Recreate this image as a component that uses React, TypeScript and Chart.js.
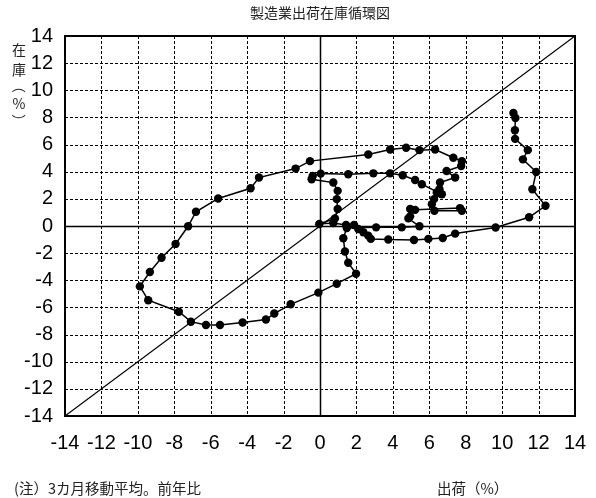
import React, { useEffect, useRef } from "react";
import { Chart, registerables } from "chart.js";

Chart.register(...registerables);

const TITLE = "製造業出荷在庫循環図";
const NOTE = "(注）3カ月移動平均。前年比";
const X_LABEL = "出荷（%）";
const Y_LABEL_CHARS = ["在", "庫", "（", "%", "）"];

const AXIS_MIN = -14;
const AXIS_MAX = 14;
const AXIS_STEP = 2;

// 出荷 (shipments, % yoy) - x
const shipments = [
  6.41, 6.56, 6.59, 7.42, 6.95, 7.75, 7.79, 7.32, 6.32, 5.46, 4.73, 3.85, 2.65,
  -0.55, -1.34, -3.35, -3.81, -5.59, -6.81, -7.24, -7.93, -8.7, -9.34, -9.89,
  -9.43, -7.75, -7.09, -6.26, -5.49, -4.25, -2.97, -2.51, -1.61, -0.09, 0.92,
  1.98, 1.55, 1.37, 1.28, 1.47, 3.08, 4.49, 5.46, 4.85, 4.95, 4.95, 5.22, 7.69,
  7.79, 6.28, 6.14, 6.26, 6.69, 5.59, 5.22, 4.54, 3.85, 2.93, 1.55, 0.04, -0.4,
  -0.46, 0.73, 0.97, 0.92, 0.97, 0.82, -0.04, 0.73, 1.43, 1.87, 2.1, 2.38, 2.65,
  2.79, 3.75, 5.16, 5.95, 6.74, 7.42, 9.64, 11.48, 12.38, 11.66, 11.87, 11.14,
  11.41, 10.71, 10.7, 10.73, 10.62,
];

// 在庫 (inventory, % yoy) - y
const inventory = [
  2.47, 2.71, 3.2, 3.57, 4.05, 4.42, 4.78, 5.03, 5.64, 5.59, 5.77, 5.64, 5.27,
  4.78, 4.23, 3.57, 2.78, 2.03, 1.05, -0.02, -1.32, -2.34, -3.39, -4.45, -5.47,
  -6.32, -7.05, -7.3, -7.3, -7.11, -6.89, -6.45, -5.77, -4.91, -4.25, -3.52,
  -2.71, -1.88, -0.9, -0.15, -0.1, -0.1, -0.02, 0.56, 0.71, 1.25, 1.19, 1.32,
  1.12, 1.12, 1.61, 1.98, 2.34, 3.08, 3.39, 3.74, 3.88, 3.88, 3.81, 3.86, 3.68,
  3.44, 3.2, 2.59, 1.98, 1.25, 0.56, 0.15, 0.22, 0.07, 0.07, -0.22, -0.46, -0.71,
  -0.95, -1.0, -1.03, -0.95, -0.88, -0.56, -0.11, 0.64, 1.49, 2.71, 3.98, 4.91,
  5.59, 6.42, 7.05, 7.96, 8.33,
];

const diagonalX = [AXIS_MIN, AXIS_MAX];
const diagonalY = [AXIS_MIN, AXIS_MAX];

const TICK_FONT = "'Liberation Sans', Arial, sans-serif";
const CJK_FONT = "'Noto Sans CJK JP', 'Noto Sans', sans-serif";

const framePlugin = {
  id: "frame",
  beforeDatasetsDraw(chart: any) {
    const { ctx, chartArea } = chart;
    const xs = chart.scales.x;
    const ys = chart.scales.y;
    ctx.save();
    ctx.strokeStyle = "#000";
    ctx.lineWidth = 1;
    ctx.setLineDash([3, 2]);
    for (let v = AXIS_MIN + AXIS_STEP; v < AXIS_MAX; v += AXIS_STEP) {
      if (v === 0) continue;
      const px = Math.round(xs.getPixelForValue(v)) + 0.5;
      ctx.beginPath();
      ctx.moveTo(px, chartArea.top);
      ctx.lineTo(px, chartArea.bottom);
      ctx.stroke();
      const py = Math.round(ys.getPixelForValue(v)) + 0.5;
      ctx.beginPath();
      ctx.moveTo(chartArea.left, py);
      ctx.lineTo(chartArea.right, py);
      ctx.stroke();
    }
    ctx.setLineDash([]);
    ctx.lineWidth = 1.5;
    const x0 = Math.round(xs.getPixelForValue(0)) + 0.5;
    const y0 = Math.round(ys.getPixelForValue(0)) + 0.5;
    ctx.beginPath();
    ctx.moveTo(x0, chartArea.top);
    ctx.lineTo(x0, chartArea.bottom);
    ctx.moveTo(chartArea.left, y0);
    ctx.lineTo(chartArea.right, y0);
    ctx.stroke();
    ctx.lineWidth = 2;
    ctx.strokeRect(
      chartArea.left,
      chartArea.top,
      chartArea.right - chartArea.left,
      chartArea.bottom - chartArea.top
    );
    ctx.restore();
  },
  afterDraw(chart: any) {
    const { ctx, chartArea } = chart;
    ctx.save();
    ctx.fillStyle = "#222";
    ctx.font = `14px ${CJK_FONT}`;
    ctx.textAlign = "center";
    ctx.textBaseline = "middle";
    ctx.fillText(TITLE, (chartArea.left + chartArea.right) / 2, 13);

    ctx.font = `14.5px ${CJK_FONT}`;
    ctx.textAlign = "left";
    ctx.fillText(NOTE, 14, 488);
    ctx.fillText(X_LABEL, 437, 488);

    ctx.font = `14px ${CJK_FONT}`;
    ctx.textAlign = "center";
    const ys = [50, 70, 86, 104, 121];
    Y_LABEL_CHARS.forEach((ch, i) => {
      ctx.save();
      ctx.translate(19, ys[i]);
      if (ch === "（" || ch === "）") ctx.rotate(Math.PI / 2);
      ctx.fillText(ch, 0, 0);
      ctx.restore();
    });
    ctx.restore();
  },
};

export default function App() {
  const canvasRef = useRef<HTMLCanvasElement | null>(null);

  useEffect(() => {
    document.body.style.margin = "0";
    const canvas = canvasRef.current;
    if (!canvas) return;
    const cycle = shipments.map((x, i) => ({ x, y: inventory[i] }));
    const diag = diagonalX.map((x, i) => ({ x, y: diagonalY[i] }));
    const chart = new Chart(canvas, {
      type: "scatter",
      data: {
        datasets: [
          {
            data: cycle,
            showLine: true,
            borderColor: "#000",
            backgroundColor: "#000",
            borderWidth: 1.5,
            pointRadius: 4.2,
            pointBorderWidth: 0,
            pointBackgroundColor: "#000",
            tension: 0,
          },
          {
            data: diag,
            showLine: true,
            borderColor: "#000",
            borderWidth: 1.2,
            pointRadius: 0,
          },
        ],
      },
      options: {
        animation: false,
        responsive: false,
        devicePixelRatio: 1,
        layout: { padding: { top: 36, right: 21, left: 0, bottom: 0 } },
        plugins: {
          legend: { display: false },
          tooltip: { enabled: false },
          title: { display: false },
        },
        scales: {
          x: {
            type: "linear",
            min: AXIS_MIN,
            max: AXIS_MAX,
            grid: { display: false, drawTicks: false },
            border: { display: false },
            ticks: {
              stepSize: AXIS_STEP,
              padding: 15,
              color: "#000",
              font: { family: TICK_FONT, size: 20 },
              maxRotation: 0,
              autoSkip: false,
            },
            afterFit(scale: any) {
              scale.height = 82;
              scale.paddingLeft = 0;
              scale.paddingRight = 0;
            },
          },
          y: {
            type: "linear",
            min: AXIS_MIN,
            max: AXIS_MAX,
            grid: { display: false, drawTicks: false },
            border: { display: false },
            ticks: {
              stepSize: AXIS_STEP,
              padding: 12,
              color: "#000",
              font: { family: TICK_FONT, size: 20 },
              autoSkip: false,
            },
            afterFit(scale: any) {
              scale.width = 65;
              scale.paddingTop = 0;
              scale.paddingBottom = 0;
            },
          },
        },
      },
      plugins: [framePlugin],
    });
    return () => chart.destroy();
  }, []);

  return (
    <div style={{ position: "fixed", left: 0, top: 0, width: 596, height: 498, background: "#fff" }}>
      <canvas ref={canvasRef} width={596} height={498} style={{ width: 596, height: 498 }} />
    </div>
  );
}
